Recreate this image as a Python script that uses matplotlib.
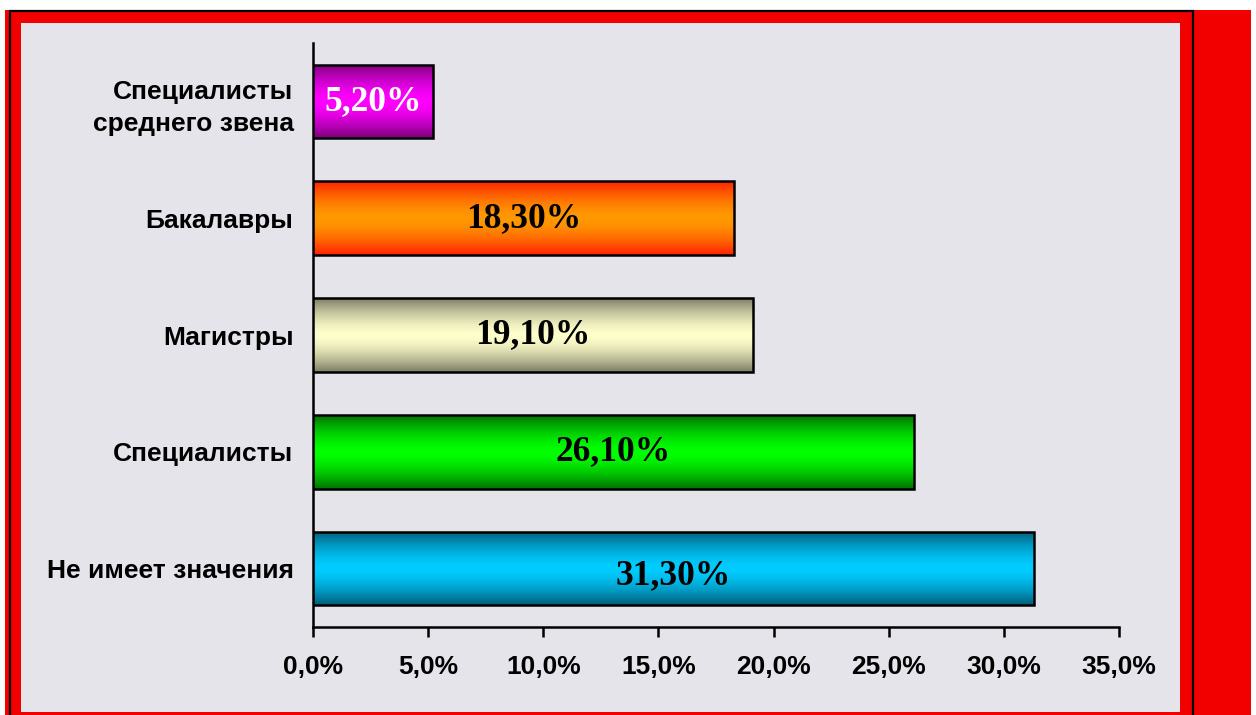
import matplotlib
matplotlib.use("Agg")
import matplotlib.pyplot as plt
import numpy as np
from matplotlib.patches import Rectangle
from matplotlib.colors import to_rgb

categories = ["Не имеет значения", "Специалисты", "Магистры", "Бакалавры",
              "Специалисты\nсреднего звена"]
values = [31.3, 26.1, 19.1, 18.3, 5.2]
value_labels = ["31,30%", "26,10%", "19,10%", "18,30%", "5,20%"]
xticks = [0, 5, 10, 15, 20, 25, 30, 35]
xtick_labels = ["0,0%", "5,0%", "10,0%", "15,0%", "20,0%", "25,0%", "30,0%", "35,0%"]

center_colors = ["#00CCFF", "#00FF00", "#FFFFCC", "#FF9900", "#FF00FF"]
edge_colors = ["#005C78", "#007000", "#7C7C64", "#FF2000", "#7A007A"]
label_colors = ["black", "black", "black", "black", "white"]
label_dy = [-0.06, 0.0, 0.0, 0.0, 0.0]

W, H = 1256, 715
fig = plt.figure(figsize=(W / 100, H / 100), dpi=100)
fig.patch.set_facecolor("white")

def px_rect(x0, y0, x1, y1, **kw):
    r = Rectangle((x0 / W, 1 - y1 / H), (x1 - x0) / W, (y1 - y0) / H,
                  transform=fig.transFigure, **kw)
    fig.patches.append(r)
    return r

red = "#F20000"
px_rect(5, 10, 1251, 715, facecolor=red, edgecolor="none", zorder=0)
px_rect(21, 23, 1180, 712, facecolor="#E4E4EA", edgecolor="none", zorder=1)
px_rect(10, 10.5, 1192.5, 740, facecolor="none", edgecolor="black", linewidth=1.6, zorder=2)

ax = fig.add_axes([313 / W, 1 - 627 / H, (1119 - 313) / W, (627 - 43) / H])
ax.set_facecolor("none")
ax.set_zorder(3)

ypos = np.arange(len(categories))
bars = ax.barh(ypos, values, height=0.63, facecolor="none", edgecolor="black",
               linewidth=1.8, zorder=4)

t = np.linspace(0, 1, 256)
prof = np.abs(2 * t - 1) ** 1.6
for bar, c0, c1, lab, lc, dy in zip(bars, center_colors, edge_colors, value_labels,
                                    label_colors, label_dy):
    a = np.array(to_rgb(c0))
    b = np.array(to_rgb(c1))
    grad = (a[None, :] * (1 - prof[:, None]) + b[None, :] * prof[:, None])[:, None, :]
    x0, y0 = bar.get_x(), bar.get_y()
    w, h = bar.get_width(), bar.get_height()
    im = ax.imshow(grad, extent=[x0, x0 + w, y0, y0 + h], aspect="auto",
                   origin="lower", zorder=3, interpolation="bilinear")
    im.set_clip_path(bar)
    ax.text(x0 + w / 2, y0 + h / 2 + dy, lab, ha="center", va="center",
            fontsize=25.5, fontweight="bold", family="Liberation Serif",
            color=lc, zorder=5)

ax.set_xlim(0, 35)
ax.set_ylim(-0.5, len(categories) - 0.5)
ax.set_xticks(xticks)
ax.set_xticklabels(xtick_labels, fontsize=19, fontweight="bold", family="Liberation Sans")
ax.set_yticks(ypos)
ax.set_yticklabels(categories, fontsize=19, fontweight="bold", family="Liberation Sans",
                   linespacing=1.4)
ax.tick_params(axis="x", direction="out", length=7, width=1.8, pad=13)
ax.tick_params(axis="y", length=0, pad=14)
for s in ["top", "right"]:
    ax.spines[s].set_visible(False)
for s in ["left", "bottom"]:
    ax.spines[s].set_linewidth(1.8)

fig.savefig("out.png", dpi=100, facecolor=fig.get_facecolor())
